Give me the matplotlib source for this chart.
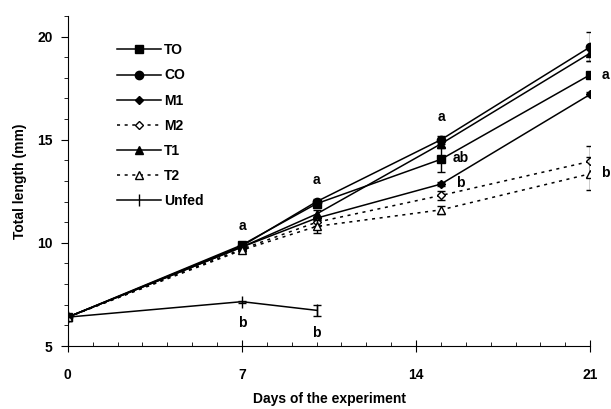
import matplotlib
matplotlib.use('Agg')
import matplotlib.pyplot as plt
from matplotlib.ticker import MultipleLocator

plt.rcParams['font.family'] = ['Liberation Sans', 'DejaVu Sans']
plt.rcParams['font.weight'] = 'bold'

days = [0, 7, 10, 15, 21]
unfed_days = [0, 7, 10]

# mean total length (mm) per treatment
TO = [6.4, 9.9, 11.9, 14.05, 18.15]
CO = [6.4, 9.85, 12.0, 15.0, 19.5]
M1 = [6.4, 9.8, 11.2, 12.85, 17.2]
M2 = [6.4, 9.7, 11.0, 12.3, 13.95]
T1 = [6.4, 9.8, 11.4, 14.8, 19.2]
T2 = [6.4, 9.65, 10.8, 11.6, 13.35]
Unfed = [6.4, 7.15, 6.73]

# standard errors
TO_err = [0, 0.1, 0.1, 0.6, 0.15]
CO_err = [0, 0.1, 0.15, 0.2, 0.7]
M1_err = [0, 0.1, 0.1, 0.1, 0.1]
M2_err = [0, 0.1, 0.2, 0.2, 0.75]
T1_err = [0, 0.1, 0.2, 0.2, 0.4]
T2_err = [0, 0.1, 0.3, 0.2, 0.8]
Unfed_err = [0, 0.05, 0.27]

# significance letters: (day, y, text)
letters = [(7, 10.8, 'a'), (10, 13.05, 'a'), (15, 16.1, 'a'),
           (15.45, 14.1, 'ab'), (15.6, 12.9, 'b'), (21.45, 18.15, 'a'),
           (21.45, 13.4, 'b'), (7, 6.1, 'b'), (10, 5.65, 'b')]

series = [
    ('TO', TO, TO_err, 's', 'k', '-'),
    ('CO', CO, CO_err, 'o', 'k', '-'),
    ('M1', M1, M1_err, 'D', 'k', '-'),
    ('M2', M2, M2_err, 'D', 'w', (0, (2, 3))),
    ('T1', T1, T1_err, '^', 'k', '-'),
    ('T2', T2, T2_err, '^', 'w', (0, (2, 3))),
]

fig = plt.figure(figsize=(6.11, 4.09), dpi=100)
ax = fig.add_axes([0.111, 0.154, 0.855, 0.807])

for name, vals, err, mk, fc, ls in series:
    ms = 4.5 if mk == 'D' else 6
    ax.errorbar(days, vals, yerr=err, fmt='none', ecolor='k', capsize=3, elinewidth=1)
    ax.plot(days, vals, color='k', marker=mk, mfc=fc, mec='k', ms=ms, lw=1.1,
            ls=ls, label=name)

ax.errorbar(unfed_days, Unfed, yerr=Unfed_err, fmt='none', ecolor='k', capsize=3, elinewidth=1)
ax.plot(unfed_days, Unfed, color='k', marker='|', ms=8, lw=1.1, label='Unfed')

for x, y, t in letters:
    ha = 'left' if t == 'ab' or x > 15.2 else 'center'
    ax.text(x, y, t, ha=ha, va='center', fontsize=10, fontweight='bold')

ax.set_xlim(0, 21)
ax.set_ylim(5, 21)
ax.spines['top'].set_visible(False)
ax.spines['right'].set_visible(False)
ax.xaxis.set_major_locator(MultipleLocator(7))
ax.xaxis.set_minor_locator(MultipleLocator(1))
ax.yaxis.set_major_locator(MultipleLocator(5))
ax.yaxis.set_minor_locator(MultipleLocator(1))
ax.tick_params(axis='x', which='major', direction='inout', length=8, labelsize=10, pad=12)
ax.tick_params(axis='x', which='minor', direction='in', length=3)
ax.tick_params(axis='y', which='major', direction='out', length=5, labelsize=10, pad=6)
ax.tick_params(axis='y', which='minor', direction='out', length=3)

ax.set_xlabel('Days of the experiment', fontsize=10, fontweight='bold', labelpad=7)
ax.set_ylabel('Total length (mm)', fontsize=10, fontweight='bold', labelpad=7)

ax.legend(loc='upper left', bbox_to_anchor=(0.07, 0.955), frameon=False,
          handlelength=3.2, labelspacing=0.8, handletextpad=0.2, fontsize=10)

fig.savefig('out.png', dpi=100)
